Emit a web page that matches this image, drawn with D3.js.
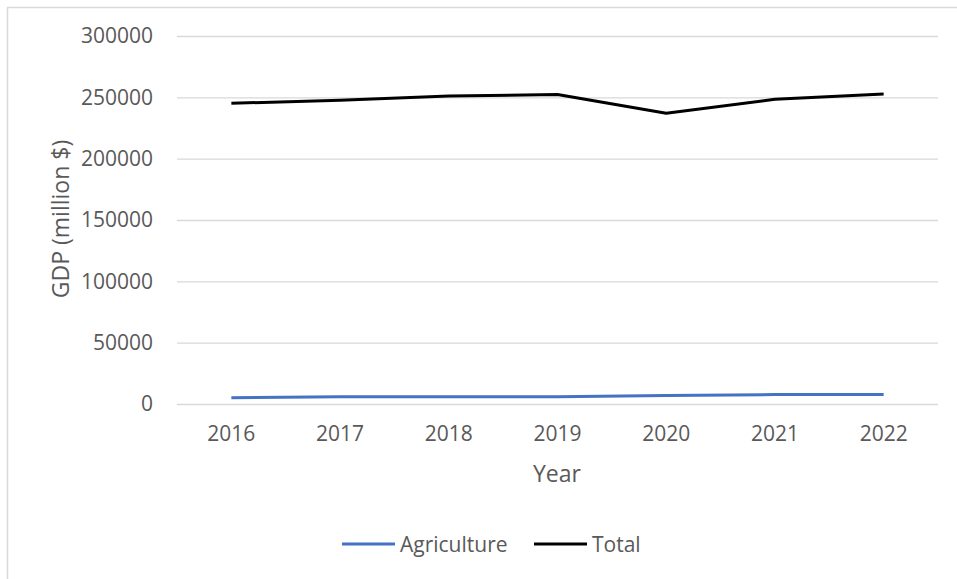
<!DOCTYPE html>
<html><head><meta charset="utf-8">
<script src="https://cdn.jsdelivr.net/npm/d3@7"></script>
<style>html,body{margin:0;padding:0;background:#fff;}svg{display:block;}</style>
</head><body>
<svg id="c" width="957" height="579"></svg>
<script>
const years = ["2016","2017","2018","2019","2020","2021","2022"];
const agriculture = [5100, 5900, 5900, 6000, 6900, 7700, 7700];
const total = [245100, 247700, 251000, 252300, 237100, 248400, 252700];
const yTicks = [0, 50000, 100000, 150000, 200000, 250000, 300000];
const seriesNames = ["Agriculture", "Total"];

const svg = d3.select("#c");
const font = "'Open Sans', sans-serif";
const txt = "#595959";

svg.append("rect").attr("x", 7.5).attr("y", 7.5).attr("width", 1000).attr("height", 1000)
  .attr("fill", "none").attr("stroke", "#d9d9d9").attr("stroke-width", 1.5);

const L = 177, R = 938, T = 36, B = 404;
const x = d3.scaleBand().domain(years).range([L, R]);
const y = d3.scaleLinear().domain([0, 300000]).range([B, T]);

const ya = svg.append("g").attr("transform", `translate(${L},0)`)
  .call(d3.axisLeft(y).tickValues(yTicks).tickSize(-(R - L)).tickPadding(24).tickFormat(d3.format("d")));
ya.select(".domain").remove();
ya.selectAll("line").attr("stroke", "#d9d9d9").attr("stroke-width", 1.3);
ya.selectAll("text").attr("fill", txt).style("font-family", font).style("font-size", "21px");

const xa = svg.append("g").attr("transform", `translate(0,${B})`)
  .call(d3.axisBottom(x).tickSize(0).tickPadding(22));
xa.select(".domain").remove();
xa.selectAll("text").attr("fill", txt).style("font-family", font).style("font-size", "21px");

const line = d3.line().x((d, i) => x(years[i]) + x.bandwidth() / 2).y(d => y(d));
svg.append("path").datum(agriculture).attr("d", line).attr("fill", "none")
  .attr("stroke", "#4472c4").attr("stroke-width", 3).attr("stroke-linejoin", "round");
svg.append("path").datum(total).attr("d", line).attr("fill", "none")
  .attr("stroke", "#000").attr("stroke-width", 3).attr("stroke-linejoin", "round");

svg.append("text").attr("x", 557).attr("y", 482).attr("text-anchor", "middle")
  .attr("fill", txt).style("font-family", font).style("font-size", "23px").text("Year");
svg.append("text").attr("transform", "translate(69,219) rotate(-90)").attr("text-anchor", "middle")
  .attr("fill", txt).style("font-family", font).style("font-size", "23px").text("GDP (million $)");

const leg = [{name: seriesNames[0], color: "#4472c4", x0: 342}, {name: seriesNames[1], color: "#000", x0: 534}];
leg.forEach(l => {
  svg.append("line").attr("x1", l.x0).attr("x2", l.x0 + 53).attr("y1", 544).attr("y2", 544)
    .attr("stroke", l.color).attr("stroke-width", 3);
  svg.append("text").attr("x", l.x0 + 58).attr("y", 552).attr("fill", txt)
    .style("font-family", font).style("font-size", "21px").text(l.name);
});
</script>
</body></html>
